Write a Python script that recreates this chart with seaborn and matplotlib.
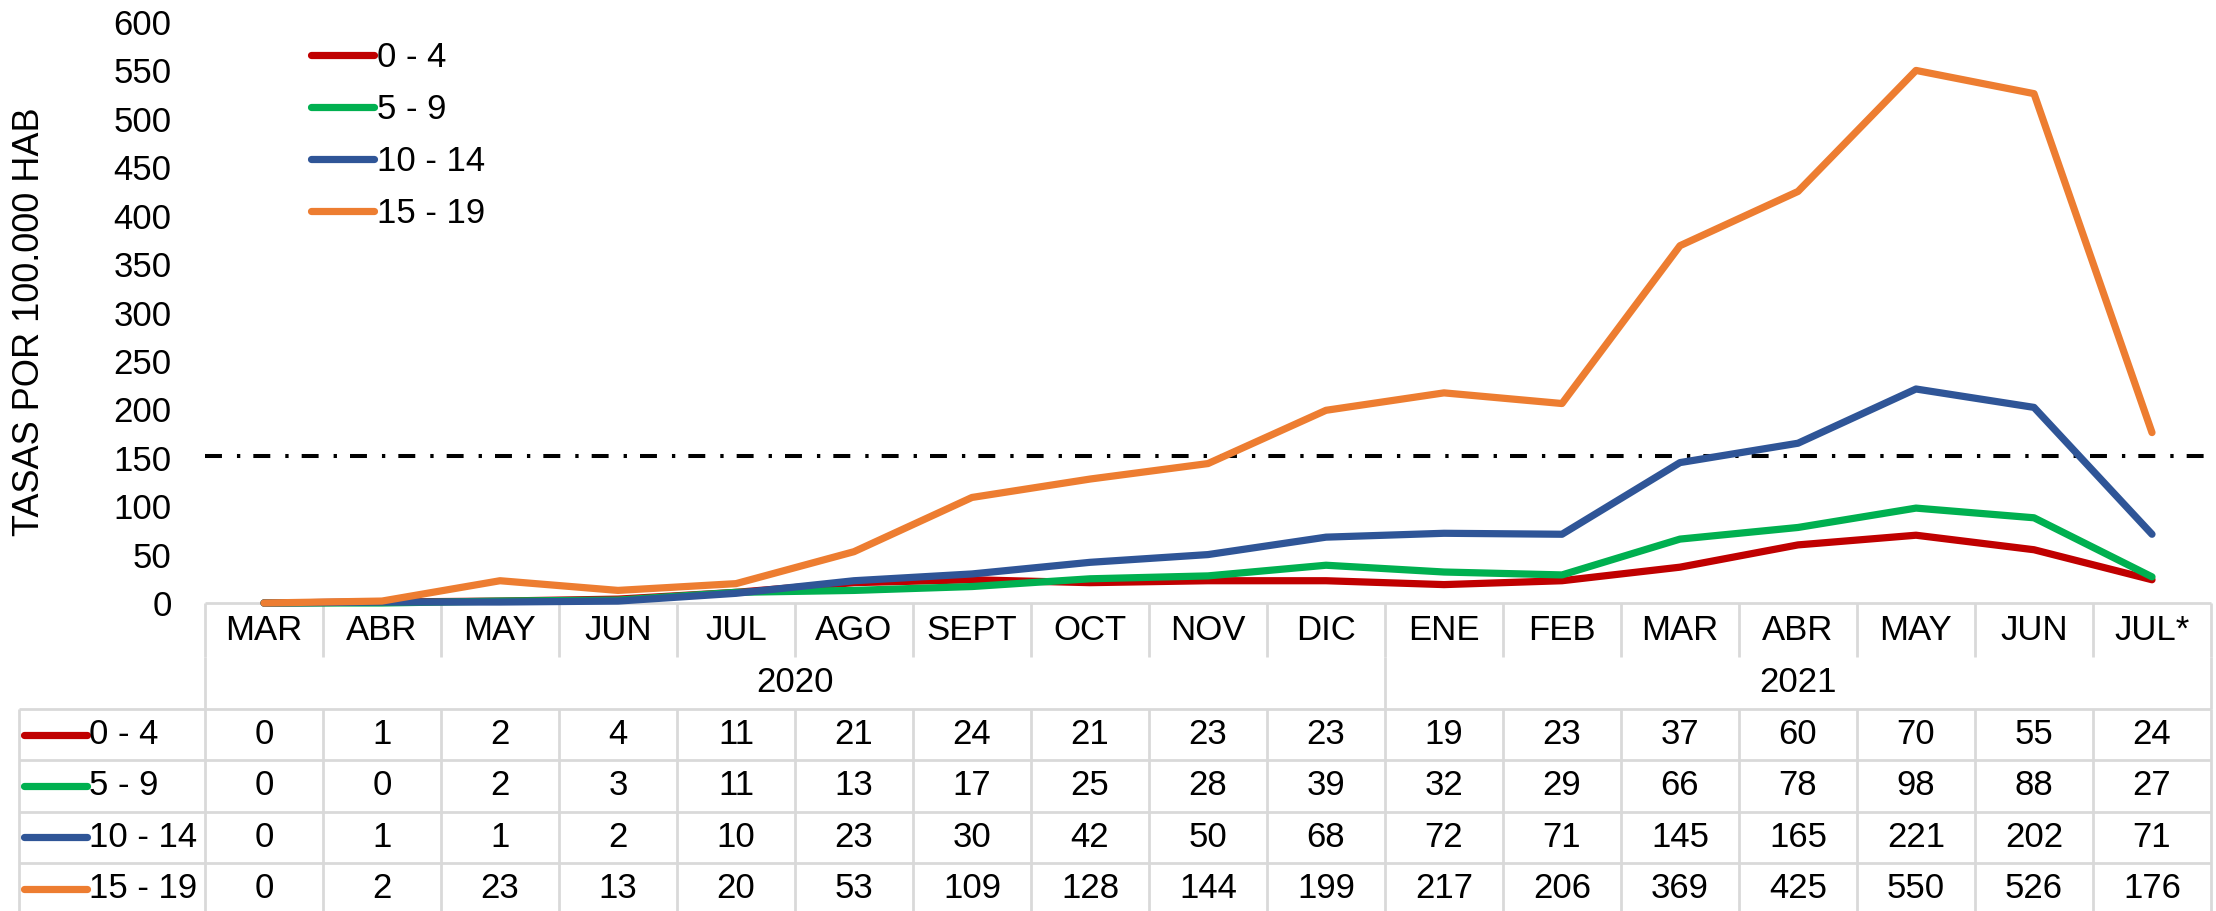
# -*- coding: utf-8 -*-
# Tasas por 100.000 hab por grupo de edad, con tabla de datos debajo
import numpy as np
import pandas as pd
import matplotlib
matplotlib.use('Agg')
import matplotlib.pyplot as plt
from matplotlib.lines import Line2D
import seaborn as sns

# ==================== datos ====================
meses = ['MAR', 'ABR', 'MAY', 'JUN', 'JUL', 'AGO', 'SEPT', 'OCT', 'NOV', 'DIC',
         'ENE', 'FEB', 'MAR', 'ABR', 'MAY', 'JUN', 'JUL*']
anios = ['2020', '2021']
meses_por_anio = [10, 7]
grupos = ['0 - 4', '5 - 9', '10 - 14', '15 - 19']
g_0_4 = [0, 1, 2, 4, 11, 21, 24, 21, 23, 23, 19, 23, 37, 60, 70, 55, 24]
g_5_9 = [0, 0, 2, 3, 11, 13, 17, 25, 28, 39, 32, 29, 66, 78, 98, 88, 27]
g_10_14 = [0, 1, 1, 2, 10, 23, 30, 42, 50, 68, 72, 71, 145, 165, 221, 202, 71]
g_15_19 = [0, 2, 23, 13, 20, 53, 109, 128, 144, 199, 217, 206, 369, 425, 550, 526, 176]
umbral = 152
colores = ['#C00000', '#00B050', '#2F5597', '#ED7D31']

series = [g_0_4, g_5_9, g_10_14, g_15_19]
df = pd.DataFrame({
    'idx': np.tile(np.arange(len(meses)), len(grupos)),
    'grupo': np.repeat(grupos, len(meses)),
    'tasa': np.concatenate(series),
})

# ==================== estilo ====================
sns.set_theme(style='white')
plt.rcParams['font.family'] = ['Liberation Sans', 'DejaVu Sans']
plt.rcParams['lines.scale_dashes'] = False
for k in ['text.color', 'axes.labelcolor', 'xtick.color', 'ytick.color']:
    plt.rcParams[k] = 'black'
FS = 25
GRIS = '#D9D9D9'

W, H = 2216, 911
fig = plt.figure(figsize=(W / 100, H / 100), dpi=100)

x0, x1, y_cero, y_tope = 205, 2211, 603, 22
ax = fig.add_axes([x0 / W, (H - y_cero) / H, (x1 - x0) / W, (y_cero - y_tope) / H])
ax_t = fig.add_axes([x0 / W, 0, (x1 - x0) / W, (H - y_cero) / H])
ax.set_zorder(3)
ax.patch.set_alpha(0)

# ==================== grafico de lineas ====================
sns.lineplot(data=df, x='idx', y='tasa', hue='grupo', hue_order=grupos,
             palette=dict(zip(grupos, colores)), linewidth=5.2,
             solid_capstyle='round', clip_on=False, legend=False, ax=ax)
ax.axhline(umbral, color='black', lw=2.9, linestyle=(0, (12.2, 10.8, 2.4, 9.4)), zorder=1)

n = len(meses)
ax.set_xlim(-0.5, n - 0.5)
ax.set_ylim(0, 600)
ax.set_yticks(np.arange(0, 601, 50))
ax.set_xticks([])
ax.set_xlabel('')
ax.tick_params(axis='y', length=0, pad=24, labelsize=FS)
for s in ax.spines.values():
    s.set_visible(False)
ax.set_ylabel('TASAS POR 100.000 HAB', fontsize=FS + 1, va='center')
ax.yaxis.set_label_coords(-0.0875, 0.485)

handles = [Line2D([], [], color=c, lw=5.2, solid_capstyle='round') for c in colores]
ax.legend(handles, grupos, loc='upper left', bbox_to_anchor=(311 / W, 1 - 41 / H),
          bbox_transform=fig.transFigure, frameon=False, borderpad=0,
          borderaxespad=0, handlelength=1.8, handletextpad=0.1,
          labelspacing=0.55, fontsize=FS)

# ==================== tabla de datos ====================
alto_t = H - y_cero
ax_t.set_xlim(-0.5, n - 0.5)
ax_t.set_ylim(alto_t, 0)
ax_t.axis('off')
col_px = (x1 - x0) / n
x_lab = -0.5 - (x0 - 19) / col_px

h_mes, h_anio, h_fila = 54, 52, 51.3
y_anio = h_mes
y_filas = h_mes + h_anio + np.arange(len(grupos) + 1) * h_fila
bordes = np.arange(n + 1) - 0.5
corte = -0.5 + meses_por_anio[0]
lw_g = 2

kw = dict(color=GRIS, lw=lw_g, clip_on=False)
ax_t.hlines(0, -0.5, n - 0.5, **kw)
ax_t.vlines(bordes, 0, y_anio, **kw)
ax_t.vlines([-0.5, corte, n - 0.5], y_anio, y_filas[0], **kw)
ax_t.vlines(bordes, y_filas[0], y_filas[-1], **kw)
ax_t.vlines(x_lab, y_filas[0], y_filas[-1], **kw)
ax_t.hlines(y_filas, x_lab, n - 0.5, **kw)

for i, m in enumerate(meses):
    ax_t.text(i, y_anio / 2, m, ha='center', va='center', fontsize=FS)
inicio = 0
for a, k in zip(anios, meses_por_anio):
    ax_t.text(inicio + (k - 1) / 2, y_anio + h_anio / 2, a, ha='center', va='center', fontsize=FS)
    inicio += k

for r, (g, c, vals) in enumerate(zip(grupos, colores, series)):
    yc = y_filas[r] + h_fila / 2
    ax_t.plot([x_lab + 5 / col_px, x_lab + 68 / col_px], [yc, yc], color=c, lw=5.2,
              solid_capstyle='round', clip_on=False)
    ax_t.text(x_lab + 70 / col_px, yc, g, ha='left', va='center', fontsize=FS, clip_on=False)
    for i, v in enumerate(vals):
        ax_t.text(i, yc, str(v), ha='center', va='center', fontsize=FS)

plt.savefig('out.png', dpi=100)
plt.close()
